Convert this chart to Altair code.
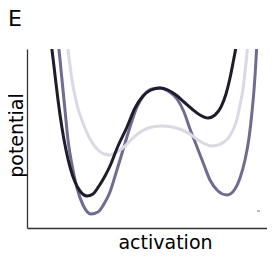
import altair as alt
import pandas as pd

# values (activation, potential in arbitrary units)
dark_x = [26, 28, 31, 34, 38, 42, 46, 51, 56, 63, 69, 75, 81, 86, 94, 103, 111, 119, 127, 136, 144, 152, 160, 168, 176, 184, 191, 197, 202, 206, 209, 212, 214]
dark_y = [193, 178, 153, 128, 100, 78, 61, 46, 37, 32, 34, 42, 52, 62, 82, 101, 120, 132, 138, 140, 138, 133, 126, 119, 113, 110, 113, 121, 134, 150, 165, 181, 193]

purple_x = [33, 35, 38, 41, 44, 48, 53, 59, 67, 74, 80, 86, 92, 99, 106, 113, 120, 128, 136, 144, 153, 160, 166, 173, 180, 186, 194, 203, 211, 216, 221, 225, 228, 230, 232, 233]
purple_y = [193, 178, 148, 118, 88, 63, 40, 23, 14, 16, 24, 36, 55, 78, 101, 121, 133, 139, 140, 137, 129, 116, 99, 81, 63, 48, 37, 33, 39, 50, 68, 90, 116, 138, 168, 188]

light_x = [42, 44, 48, 53, 59, 66, 73, 80, 86, 93, 101, 109, 118, 128, 138, 148, 158, 166, 174, 181, 187, 194, 200, 205, 209, 213, 216, 219, 221, 223, 224]
light_y = [193, 178, 148, 123, 105, 89, 79, 74, 73, 76, 82, 90, 97, 101, 102, 101, 98, 94, 88, 84, 82, 83, 86, 91, 98, 109, 123, 139, 156, 175, 188]

marker_x = [233]
marker_x2 = [236]
marker_y = [17]

panel_label = ["E"]

series_names = ["purple", "light", "dark"]
series_colors = ["#6f6c91", "#dad9e4", "#1d1c2b"]

frames = []
for name, xs, ys in [("purple", purple_x, purple_y), ("light", light_x, light_y), ("dark", dark_x, dark_y)]:
    frames.append(pd.DataFrame({"activation": xs, "potential": ys, "series": name}))
df = pd.concat(frames, ignore_index=True)

marker_df = pd.DataFrame({"x": marker_x, "x2": marker_x2, "y": marker_y})
label_df = pd.DataFrame({"label": panel_label})

xscale = alt.Scale(domain=[3, 243], nice=False, zero=False)
yscale = alt.Scale(domain=[0, 179], nice=False, zero=False)

xaxis = alt.Axis(
    title="activation", labels=False, ticks=False, grid=False,
    domainColor="#333333", domainWidth=1.3,
    titleFont="DejaVu Sans", titleFontSize=19, titleFontWeight="normal", titleColor="#000000",
    titleX=138, titleY=20.5, titleAlign="center", titleBaseline="alphabetic",
)
yaxis = alt.Axis(
    title="potential", labels=False, ticks=False, grid=False,
    domainColor="#333333", domainWidth=1.3,
    titleFont="DejaVu Sans", titleFontSize=19, titleFontWeight="normal", titleColor="#000000",
    titleX=-4.5, titleY=86, titleAngle=270, titleAlign="center", titleBaseline="alphabetic",
)

layers = []
for name, color in zip(series_names, series_colors):
    layers.append(
        alt.Chart(df).transform_filter(alt.datum.series == name)
        .mark_line(color=color, strokeWidth=3, clip=True, interpolate="monotone")
        .encode(
            x=alt.X("activation:Q", scale=xscale, axis=xaxis),
            y=alt.Y("potential:Q", scale=yscale, axis=yaxis),
        )
    )

marker = alt.Chart(marker_df).mark_rule(color="#777777", strokeWidth=1).encode(
    x=alt.X("x:Q", scale=xscale, axis=xaxis),
    x2="x2:Q",
    y=alt.Y("y:Q", scale=yscale, axis=yaxis),
)

label = alt.Chart(label_df).mark_text(
    font="DejaVu Sans", fontSize=22, color="#000000", align="left", baseline="alphabetic"
).encode(
    text="label:N",
    x=alt.value(-19),
    y=alt.value(-23),
)

chart = alt.layer(*layers, marker, label).properties(
    width=240,
    height=179,
    autosize=alt.AutoSizeParams(type="none"),
    padding={"left": 19, "top": 41, "right": 0, "bottom": 21},
).configure(background="white").configure_view(stroke=None)

chart.save("out.html", embed_options={"renderer": "svg", "actions": False})
